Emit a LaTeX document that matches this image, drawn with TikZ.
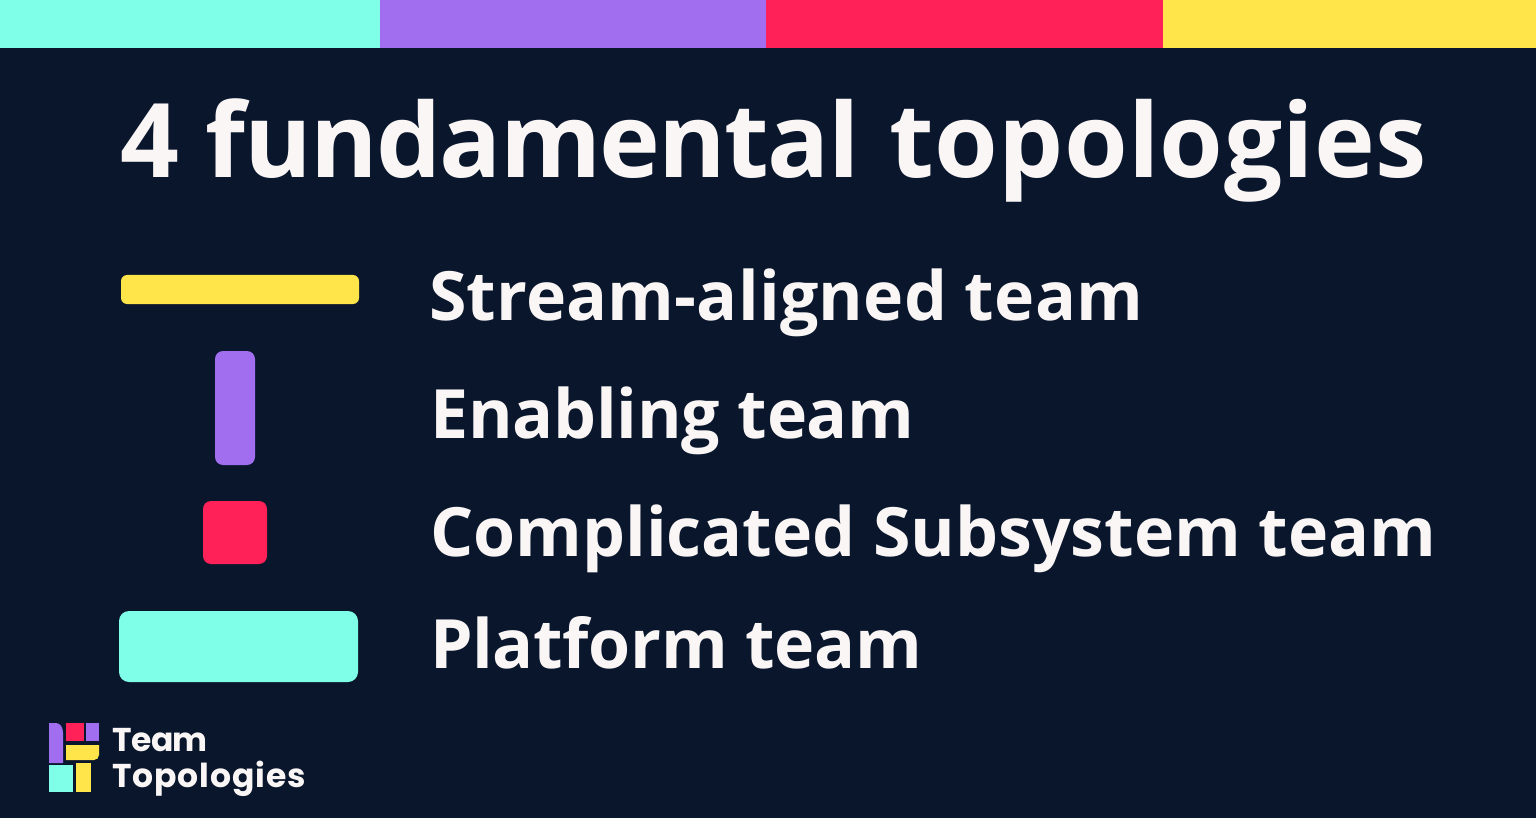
\documentclass[tikz,border=0pt]{standalone}
\usepackage{fontspec}
\setmainfont{Open Sans}
\newfontfamily\logofont{Poppins}[LetterSpace=-1.5]
\newfontfamily\logofontb{Poppins}[LetterSpace=2.8]
\definecolor{bgc}{HTML}{09162C}
\definecolor{cy}{HTML}{80FFE8}
\definecolor{pu}{HTML}{A06EEE}
\definecolor{re}{HTML}{FF2158}
\definecolor{ye}{HTML}{FFE54A}
\definecolor{tx}{HTML}{FAF6F6}
\tikzset{
 lab/.style={anchor=base west,inner sep=0pt,text=tx,font=\fontsize{68}{68}\selectfont\bfseries},
 logo/.style={anchor=base west,inner sep=0pt,text=tx,font=\logofont\bfseries\fontsize{33}{33}\selectfont},
 logob/.style={anchor=base west,inner sep=0pt,text=tx,font=\logofontb\bfseries\fontsize{33}{33}\selectfont},
}
\begin{document}
\begin{tikzpicture}[x=1pt,y=-1pt]
\useasboundingbox (0,0) rectangle (1536,818);
\fill[bgc] (0,0) rectangle (1536,818);
\fill[cy] (0,0) rectangle (380,48);
\fill[pu] (380,0) rectangle (766,48);
\fill[re] (766,0) rectangle (1163,48);
\fill[ye] (1163,0) rectangle (1536,48);
\node[lab,font=\fontsize{103}{103}\selectfont\bfseries] (title) at (120,178) {4 {\addfontfeatures{LetterSpace=-1.6}fundamental}\hspace{3pt} {\addfontfeatures{LetterSpace=0.3}topologies}};
\fill[ye,rounded corners=6pt] (121,275) rectangle (359,304);
\fill[pu,rounded corners=8pt] (215,351) rectangle (255,465);
\fill[re,rounded corners=8pt] (203,501) rectangle (267,564);
\fill[cy,rounded corners=10pt] (119,611) rectangle (358,682);
\node[lab] (a) at (429,320) {\addfontfeatures{LetterSpace=0.3}Stream-aligned team};
\node[lab] (b) at (430,438) {\addfontfeatures{LetterSpace=-0.3}Enabling team};
\node[lab] (c) at (430,556) {Complicated Subsystem team};
\node[lab] (d) at (430,668) {\addfontfeatures{LetterSpace=-0.5}Platform team};
\fill[pu] (49,723) -- (56,723) to[out=0,in=90] (63,733) -- (63,763) -- (49,763) -- cycle;
\fill[re] (66,723) rectangle (84,741);
\fill[pu] (86,723) rectangle (99,741);
\fill[ye] (66,745) -- (99,745) -- (99,755) to[out=-90,in=0] (94,760) -- (66,760) -- cycle;
\fill[cy] (49,765) rectangle (73,792);
\fill[ye] (76,763) rectangle (91,792);
\node[logo] (l1) at (112,751) {Team};
\node[logob] (l2) at (112,787) {Topologies};
\end{tikzpicture}
\end{document}
